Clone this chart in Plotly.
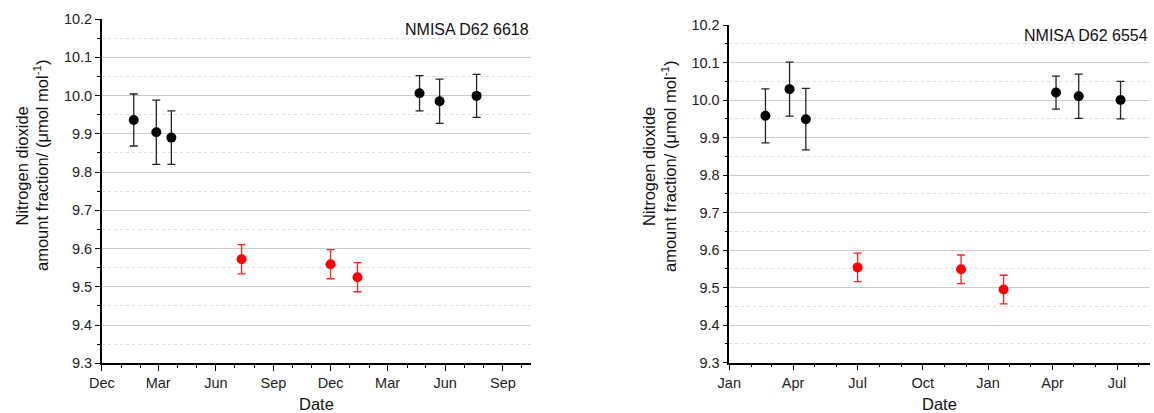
import plotly.graph_objects as go

# ---------------- data ----------------
# Left panel: NMISA D62 6618
left_black_dates = ["2019-01-21", "2019-02-26", "2019-03-22", "2020-04-21", "2020-05-23", "2020-07-21"]
left_black_values = [9.936, 9.904, 9.890, 10.006, 9.985, 9.999]
left_black_errors = [0.068, 0.084, 0.070, 0.046, 0.058, 0.056]
left_red_dates = ["2019-07-12", "2019-12-01", "2020-01-13"]
left_red_values = [9.572, 9.559, 9.525]
left_red_errors = [0.038, 0.038, 0.038]

# Right panel: NMISA D62 6554
right_black_dates = ["2019-02-21", "2019-03-27", "2019-04-19", "2020-04-06", "2020-05-08", "2020-07-06"]
right_black_values = [9.958, 10.029, 9.949, 10.020, 10.010, 10.000]
right_black_errors = [0.072, 0.072, 0.082, 0.044, 0.059, 0.050]
right_red_dates = ["2019-07-01", "2019-11-24", "2020-01-23"]
right_red_values = [9.554, 9.549, 9.495]
right_red_errors = [0.038, 0.038, 0.038]

panel_labels = ["NMISA D62 6618", "NMISA D62 6554"]
x_title = "Date"
y_title_line1 = "Nitrogen dioxide"
y_title_line2 = "amount fraction/ (μmol mol<sup>-1</sup>)"
y_ticks = [9.3, 9.4, 9.5, 9.6, 9.7, 9.8, 9.9, 10.0, 10.1, 10.2]

# ---------------- figure ----------------
W, H = 1154, 413
FONT = "Arial, 'Liberation Sans', sans-serif"

def px(xp):
    return xp / W

def py(yp):
    return (H - yp) / H

fig = go.Figure()

def add_series(dates, vals, errs, color, ecolor, xa, ya):
    fig.add_trace(go.Scatter(
        x=dates, y=vals, mode="markers",
        marker=dict(color=color, size=10, line=dict(width=0)),
        error_y=dict(type="data", array=errs, visible=True, color=ecolor,
                     thickness=1.3, width=4),
        xaxis=xa, yaxis=ya, showlegend=False, hoverinfo="x+y"))

add_series(left_black_dates, left_black_values, left_black_errors, "black", "#222222", "x", "y")
add_series(left_red_dates, left_red_values, left_red_errors, "#ff0000", "#ff2020", "x", "y")
add_series(right_black_dates, right_black_values, right_black_errors, "black", "#222222", "x2", "y2")
add_series(right_red_dates, right_red_values, right_red_errors, "#ff0000", "#ff2020", "x2", "y2")

def xaxis_cfg(dom, rng, tick0, anchor):
    return dict(
        domain=dom, range=rng, type="date", anchor=anchor,
        tick0=tick0, dtick="M3", tickformat="%b",
        showline=True, linecolor="black", linewidth=1.5,
        ticks="outside", ticklen=6, tickwidth=1.3, tickcolor="black",
        showgrid=False, zeroline=False,
        tickfont=dict(family=FONT, size=14.5, color="#222222"),
        minor=dict(dtick="M1", ticks="outside", ticklen=3, tickwidth=1.2,
                   tickcolor="black", showgrid=False),
        automargin=False, fixedrange=True)

def yaxis_cfg(dom, anchor):
    return dict(
        domain=dom, range=[9.3, 10.2], anchor=anchor,
        tickmode="array", tickvals=y_ticks, tickformat=".1f",
        showline=True, linecolor="black", linewidth=1.5,
        ticks="outside", ticklen=5, tickwidth=1.3, tickcolor="black",
        showgrid=True, gridcolor="#cccccc", gridwidth=1,
        zeroline=False,
        tickfont=dict(family=FONT, size=14.5, color="#222222"),
        minor=dict(dtick=0.05, tick0=9.3, ticks="outside", ticklen=3, tickwidth=1.2,
                   tickcolor="black", showgrid=True, gridcolor="#dddddd",
                   griddash="dot", gridwidth=1),
        automargin=False, fixedrange=True)

L0, L1 = 101.8, 531.1
R0, R1 = 729.3, 1149.6

fig.update_layout(
    width=W, height=H, autosize=False,
    margin=dict(l=0, r=0, t=0, b=0),
    paper_bgcolor="white", plot_bgcolor="white",
    font=dict(family=FONT, color="#222222"),
    xaxis=xaxis_cfg([px(L0), px(L1)], ["2018-12-01", "2020-10-16"], "2018-12-01", "y"),
    yaxis=yaxis_cfg([py(363.3), py(19)], "x"),
    xaxis2=xaxis_cfg([px(R0), px(R1)], ["2019-01-01", "2020-08-16"], "2019-01-01", "y2"),
    yaxis2=yaxis_cfg([py(362.7), py(25)], "x2"),
    showlegend=False,
)

ann = []
# panel labels
ann.append(dict(text=panel_labels[0], x=px(L1), y=py(30), xref="paper", yref="paper",
                xanchor="right", yanchor="middle", showarrow=False,
                font=dict(family=FONT, size=16, color="#111111")))
ann.append(dict(text=panel_labels[1], x=px(R1), y=py(35), xref="paper", yref="paper",
                xanchor="right", yanchor="middle", showarrow=False,
                font=dict(family=FONT, size=16, color="#111111")))
# x titles
for x0, x1 in [(L0, L1), (R0, R1)]:
    ann.append(dict(text=x_title, x=px((x0 + x1) / 2), y=py(404), xref="paper", yref="paper",
                    xanchor="center", yanchor="middle", showarrow=False,
                    font=dict(family=FONT, size=16.5, color="#111111")))
# y titles (two lines each)
for c1, c2, yc in [(21.5, 41, 166), (649, 669, 167)]:
    ann.append(dict(text=y_title_line1, x=px(c1), y=py(yc), xref="paper", yref="paper",
                    xanchor="center", yanchor="middle", textangle=-90, showarrow=False,
                    font=dict(family=FONT, size=16.5, color="#111111")))
    ann.append(dict(text=y_title_line2, x=px(c2), y=py(yc), xref="paper", yref="paper",
                    xanchor="center", yanchor="middle", textangle=-90, showarrow=False,
                    font=dict(family=FONT, size=16.5, color="#111111")))
fig.update_layout(annotations=ann)

fig.write_html("out.html")
